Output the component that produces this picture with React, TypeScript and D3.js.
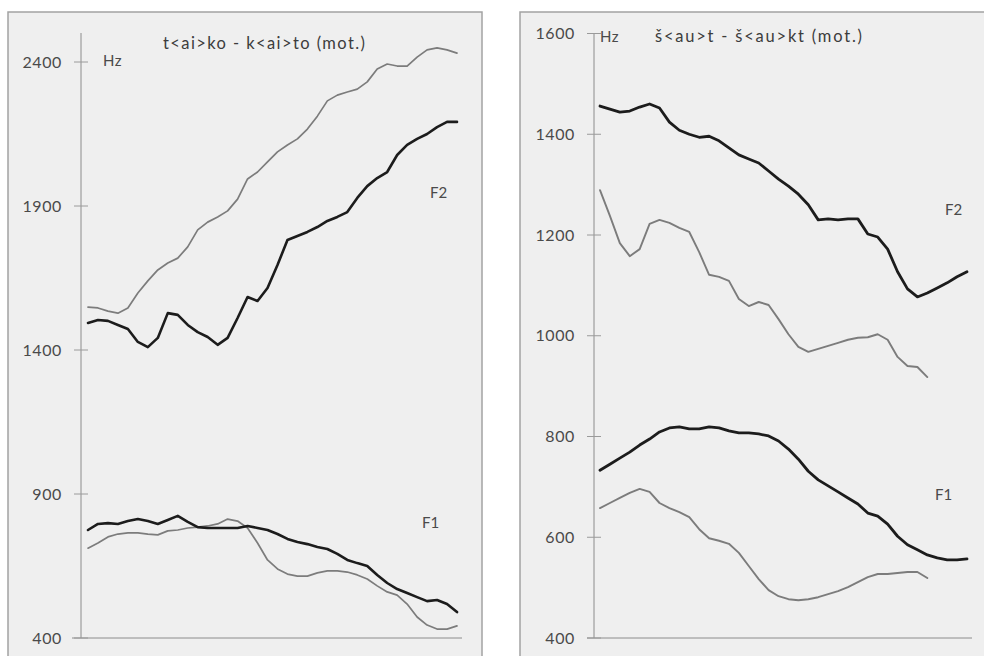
import React from "react";
import * as d3 from "d3";

// Formant tracks (Hz), sampled at equal time steps across each vowel
const leftF2Gray = [1549,1546,1535,1528,1546,1598,1640,1678,1702,1719,1758,1817,1844,1862,1883,1924,1994,2018,2053,2088,2112,2133,2167,2212,2265,2285,2296,2306,2331,2376,2393,2386,2386,2417,2442,2449,2442,2431];
const leftF2Black = [1494,1504,1501,1487,1473,1428,1410,1442,1528,1522,1487,1462,1445,1418,1442,1511,1584,1570,1615,1695,1782,1796,1810,1827,1848,1862,1879,1928,1969,1997,2018,2077,2112,2133,2150,2174,2192,2192];
const leftF1Black = [775,796,799,796,806,813,806,796,810,824,803,785,782,782,782,782,789,782,775,761,744,733,726,716,709,692,671,660,650,619,591,570,556,542,528,532,518,490];
const leftF1Gray = [712,730,751,761,765,765,761,758,772,775,782,785,789,796,813,806,782,730,671,640,622,615,615,626,633,633,629,619,605,581,560,549,518,473,445,431,431,442];

const rightF2Black = [1456,1450,1444,1446,1454,1460,1452,1424,1408,1400,1394,1396,1387,1373,1359,1351,1343,1327,1311,1297,1281,1260,1230,1232,1230,1232,1232,1202,1196,1172,1127,1093,1077,1085,1095,1105,1117,1127];
const rightF2Gray = [1289,1238,1184,1158,1172,1222,1230,1224,1214,1206,1166,1121,1117,1109,1073,1059,1067,1061,1033,1003,978,968,974,980,986,992,996,997,1003,992,958,940,938,918];
const rightF1Black = [733,745,757,769,783,795,809,817,819,815,815,819,817,811,807,807,805,801,791,775,755,731,714,702,690,678,666,648,642,626,602,585,575,565,559,555,555,557];
const rightF1Gray = [658,668,678,688,696,690,668,658,650,640,616,598,593,587,569,543,517,495,483,477,475,477,481,487,493,501,511,521,527,527,529,531,531,519];

const leftTicks = [400, 900, 1400, 1900, 2400];
const rightTicks = [400, 600, 800, 1000, 1200, 1400, 1600];

const leftTitle = "t<ai>ko - k<ai>to (mot.)";
const rightTitle = "š<au>t - š<au>kt (mot.)";

const FONT = "Lato, 'Open Sans', sans-serif";
const SAMPLE_COUNT = 38;

type Series = { values: number[]; color: string; width: number };

type PanelProps = {
  frame: { x: number; y: number; w: number; h: number };
  axisX: number;
  axisTop: number;
  axisBottom: number;
  scaleTop: number;
  xAxisLeft: number;
  xAxisRight: number;
  plotLeft: number;
  plotRight: number;
  domain: [number, number];
  ticks: number[];
  title: string;
  titleX: number;
  titleY: number;
  titleWidth: number;
  hzX: number;
  hzY: number;
  series: Series[];
  f2: [number, number];
  f1: [number, number];
};

function Panel(p: PanelProps) {
  const x = d3.scaleLinear().domain([0, SAMPLE_COUNT - 1]).range([p.plotLeft, p.plotRight]);
  const y = d3.scaleLinear().domain(p.domain).range([p.axisBottom, p.scaleTop]);
  const line = d3
    .line<number>()
    .x((_, i) => x(i))
    .y((v) => y(v))
    .curve(d3.curveLinear);

  return (
    <g>
      <rect x={p.frame.x} y={p.frame.y} width={p.frame.w} height={p.frame.h} fill="#efefef" stroke="#a3a3a3" strokeWidth={1.5} />
      {/* y axis */}
      <line x1={p.axisX} x2={p.axisX} y1={p.axisTop} y2={p.axisBottom} stroke="#8c8c8c" strokeWidth={1} />
      {/* x axis */}
      <line x1={p.xAxisLeft} x2={p.xAxisRight} y1={p.axisBottom} y2={p.axisBottom} stroke="#8c8c8c" strokeWidth={1} />
      {p.ticks.map((t) => (
        <g key={t}>
          <line x1={p.axisX - 7} x2={p.axisX + 7} y1={y(t)} y2={y(t)} stroke="#9a9a9a" strokeWidth={1} />
          <text x={p.axisX - 19} y={y(t)} dy="0.35em" textAnchor="end" fontSize={16} letterSpacing={0.6} fontFamily={FONT} fill="#4a4a4a">
            {t}
          </text>
        </g>
      ))}
      <text x={p.hzX} y={p.hzY} dy="0.35em" fontSize={15} letterSpacing={0.5} fontFamily={FONT} fill="#4a4a4a">Hz</text>
      <text x={p.titleX} y={p.titleY} dy="0.35em" fontSize={16.5} fontFamily={FONT} fill="#3c3c3c" textLength={p.titleWidth} lengthAdjust="spacing">{p.title}</text>
      {p.series.map((s, i) => (
        <path key={i} d={line(s.values) || ""} fill="none" stroke={s.color} strokeWidth={s.width} strokeLinejoin="round" strokeLinecap="round" />
      ))}
      <text x={p.f2[0]} y={p.f2[1]} dy="0.35em" fontSize={15} fontFamily={FONT} fill="#4a4a4a">F2</text>
      <text x={p.f1[0]} y={p.f1[1]} dy="0.35em" fontSize={15} fontFamily={FONT} fill="#4a4a4a">F1</text>
    </g>
  );
}

export default function App() {
  return (
    <svg width={984} height={656} style={{ position: "absolute", left: 0, top: 0, background: "#ffffff" }}>
      <Panel
        frame={{ x: 8, y: 12, w: 474, h: 660 }}
        axisX={81}
        axisTop={33}
        axisBottom={638}
        scaleTop={62}
        xAxisLeft={72}
        xAxisRight={462}
        plotLeft={88}
        plotRight={457}
        domain={[400, 2400]}
        ticks={leftTicks}
        title={leftTitle}
        titleX={163}
        titleY={43}
        titleWidth={202}
        hzX={103}
        hzY={61}
        series={[
          { values: leftF2Gray, color: "#7c7c7c", width: 1.7 },
          { values: leftF1Gray, color: "#7c7c7c", width: 1.7 },
          { values: leftF2Black, color: "#1c1c1c", width: 2.6 },
          { values: leftF1Black, color: "#1c1c1c", width: 2.6 },
        ]}
        f2={[430, 193]}
        f1={[422, 523]}
      />
      <Panel
        frame={{ x: 520, y: 12, w: 480, h: 660 }}
        axisX={594}
        axisTop={33.5}
        axisBottom={638}
        scaleTop={33.5}
        xAxisLeft={587}
        xAxisRight={972}
        plotLeft={600}
        plotRight={967}
        domain={[400, 1600]}
        ticks={rightTicks}
        title={rightTitle}
        titleX={655}
        titleY={36}
        titleWidth={207}
        hzX={600}
        hzY={37}
        series={[
          { values: rightF2Gray, color: "#7c7c7c", width: 1.9 },
          { values: rightF1Gray, color: "#7c7c7c", width: 1.9 },
          { values: rightF2Black, color: "#1c1c1c", width: 2.8 },
          { values: rightF1Black, color: "#1c1c1c", width: 2.8 },
        ]}
        f2={[945, 210]}
        f1={[935, 495]}
      />
    </svg>
  );
}
